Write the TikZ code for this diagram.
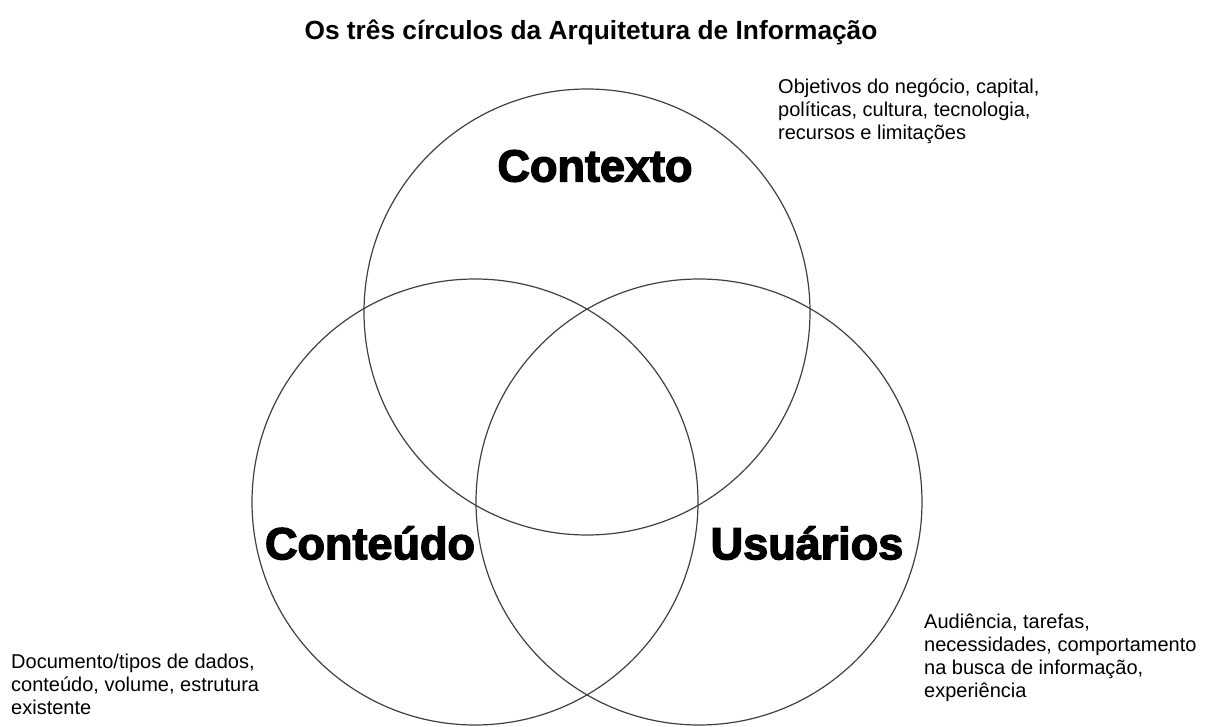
\documentclass[tikz,border=0pt]{standalone}
\usepackage{fontspec}
\setmainfont{Liberation Sans}
\newfontfamily\heavyfont[FakeBold=3]{Liberation Sans Bold}

\begin{document}
\begin{tikzpicture}[x=1pt,y=-1pt,
  ring/.style={circle, draw=black!75, line width=1.2pt, inner sep=0pt, minimum size=446pt},
  biglabel/.style={font=\heavyfont\fontsize{45}{50}\selectfont, inner sep=0pt},
  note/.style={align=left, inner sep=0pt, anchor=north west,
    font=\fontsize{20}{23}\selectfont}]
  \useasboundingbox (0,0) rectangle (1205,727);

  \node (title) at (591,32) {\bfseries\fontsize{26.3}{30}\selectfont Os três círculos da Arquitetura de Informação};

  \node[ring] (contexto) at (587,312) {};
  \node[ring] (conteudo) at (475,502) {};
  \node[ring] (usuarios) at (699,502) {};

  \node[biglabel] (lctx) at (595,166) {Contexto};
  \node[biglabel] (lcon) at (370,543) {Conteúdo};
  \node[biglabel] (lusu) at (807,543) {Usuários};

  \node[note] (nctx) at (778,78.5) {Objetivos do negócio, capital,\\políticas, cultura, tecnologia,\\recursos e limitações};
  \node[note] (ncon) at (11,653.5) {Documento/tipos de dados,\\conteúdo, volume, estrutura\\existente};
  \node[note] (nusu) at (924,613.5) {Audiência, tarefas,\\necessidades, comportamento\\na busca de informação,\\experiência};

\end{tikzpicture}
\end{document}
